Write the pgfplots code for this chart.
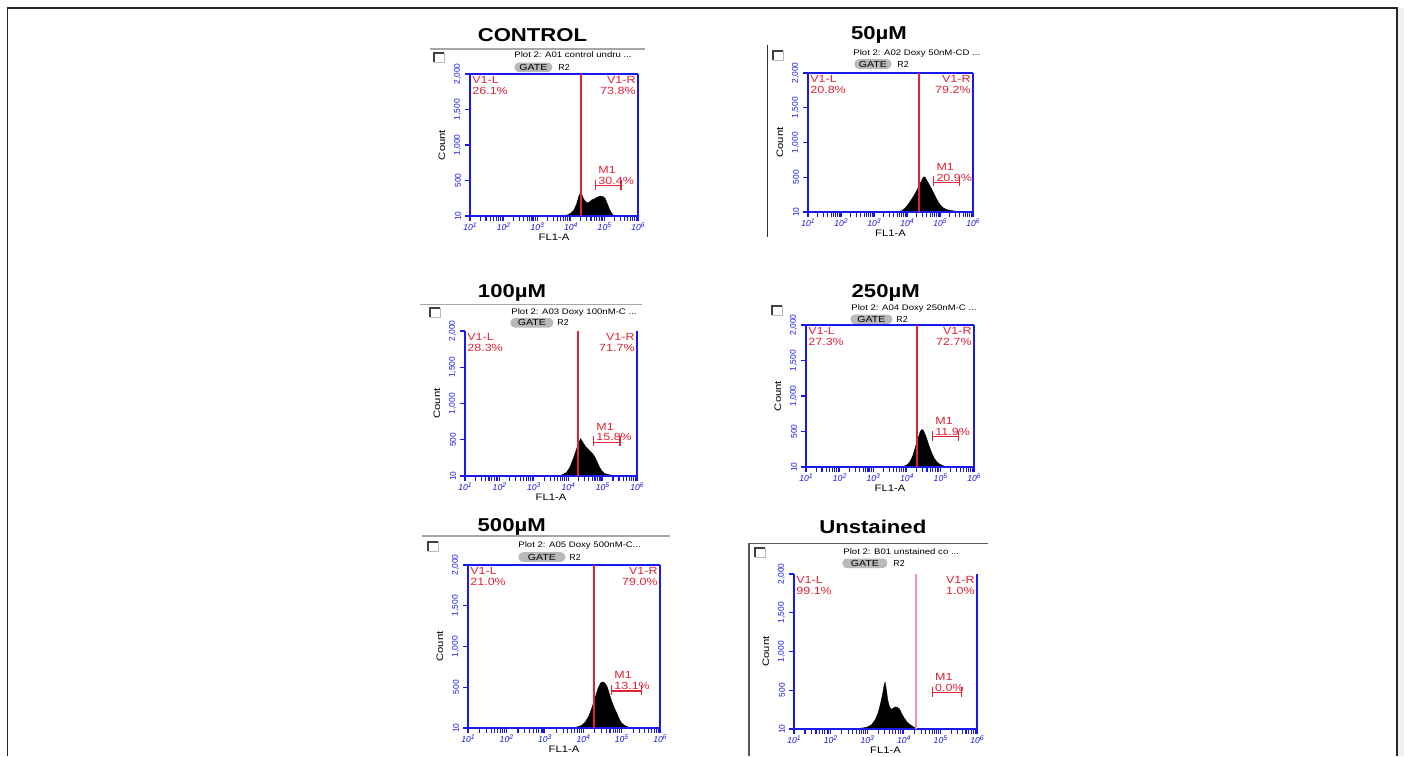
\documentclass[border=0pt]{standalone}
\usepackage{fontspec}
\setmainfont{Liberation Sans}
\usepackage{graphicx}
\usepackage{pgfplots}
\pgfplotsset{compat=1.18}
\definecolor{fcblue}{RGB}{25,25,235}
\definecolor{fcred}{RGB}{225,35,55}
\definecolor{fcpink}{RGB}{240,150,170}
\newcommand{\vfont}{\fontsize{5.2}{5.4}\selectfont}
\newcommand{\sx}[1]{\scalebox{1.2}[1]{#1}}
\newcommand{\tl}[1]{\textit{10}\raisebox{1.4pt}{\fontsize{3.4}{3.6}\selectfont\textit{#1}}}
\pgfplotsset{
 fc/.style={
  scale only axis, clip=false,
  xmin=1, xmax=6, ymin=0, ymax=2000,
  axis line style={draw=none},
  xtick={1,2,3,4,5,6},
  xticklabels={\tl{1},\tl{2},\tl{3},\tl{4},\tl{5},\tl{6}},
  minor xtick={1.301,1.477,1.602,1.699,1.778,1.845,1.903,1.954,
               2.301,2.477,2.602,2.699,2.778,2.845,2.903,2.954,
               3.301,3.477,3.602,3.699,3.778,3.845,3.903,3.954,
               4.301,4.477,4.602,4.699,4.778,4.845,4.903,4.954,
               5.301,5.477,5.602,5.699,5.778,5.845,5.903,5.954},
  ytick={0,500,1000,1500,2000},
  yticklabels={10,500,{1,000},{1,500},{2,000}},
  tick align=outside, tick pos=left,
  major tick length=2.5pt, minor tick length=2.5pt,
  every tick/.style={fcblue, line width=0.55pt},
  xticklabel style={font=\fontsize{4.3}{4.5}\selectfont, text=fcblue, inner sep=0.5pt, yshift=-0.3pt},
  yticklabel style={font=\fontsize{4.2}{4.4}\selectfont, text=fcblue, inner sep=0.5pt, xshift=-1.3pt, rotate=90, anchor=south},
 }
}
\newcommand{\fcbox}[1]{%
 \draw[fcblue, line width=0.7pt] (rel axis cs:0,1) -- (rel axis cs:0,0) -- (rel axis cs:1,0) -- (rel axis cs:1,1);
 \ifnum#1=1 \draw[fcblue, line width=0.7pt] (rel axis cs:0,1) -- (rel axis cs:1,1);\fi
 \node[rotate=90, font=\fontsize{4.7}{5}\selectfont] at ([xshift=-14pt]rel axis cs:0,0.5) {\sx{Count}};
 \node[font=\fontsize{4.7}{5}\selectfont] at ([yshift=-10.5pt]rel axis cs:0.5,0) {\sx{FL1-A}};
}
\newcommand{\vone}[5]{%
 \draw[draw=#3, line width=#2] (axis cs:#1,0) -- (axis cs:#1,2000);
 \node[anchor=north west, align=left, text=fcred, font=\vfont, inner sep=1pt] at (rel axis cs:0,1) {\sx{V1-L}\\\sx{#4}};
 \node[anchor=north east, align=right, text=fcred, font=\vfont, inner sep=1pt] at (rel axis cs:1,1) {\sx{V1-R}\\\sx{#5}};
}
\newcommand{\mone}[4]{%
 \draw[draw=fcred, line width=0.75pt] (axis cs:#1,#3) -- (axis cs:#2,#3);
 \draw[draw=fcred, line width=0.75pt] ([yshift=3pt]axis cs:#1,#3) -- ([yshift=-2pt]axis cs:#1,#3);
 \draw[draw=fcred, line width=0.75pt] ([yshift=3pt]axis cs:#2,#3) -- ([yshift=-2pt]axis cs:#2,#3);
 \node[anchor=south west, align=left, text=fcred, font=\vfont, inner sep=0.4pt] at ([xshift=0.8pt]axis cs:#1,#3) {\sx{M1}\\\sx{#4}};
}
\newcommand{\ttl}[3]{\node[font=\fontsize{9.3}{10}\selectfont\bfseries] at (#1,#2) {\scalebox{1.19}[1]{#3}};}
\newcommand{\cbox}[2]{%
 \draw[gray!55, line width=0.4pt] (#1,#2) rectangle ++(10,9);
 \draw[black!75, line width=0.8pt] (#1,#2+9) -- (#1,#2) -- (#1+10,#2);
}
\newcommand{\ptext}[3]{\node[anchor=west, inner sep=0pt, font=\fontsize{4}{4.4}\selectfont] at (#1,#2) {\sx{#3}};}
\newcommand{\gate}[4]{%
 \node[fill=gray!55, rounded corners=2.2pt, minimum width=#3*0.5pt, minimum height=4.8pt, inner sep=0pt, anchor=west, font=\fontsize{4.4}{4.6}\selectfont] at (#1,#2) {\sx{GATE}};
 \node[anchor=west, inner sep=0pt, font=\fontsize{4.4}{4.6}\selectfont] at (#4,#2) {R2};
}
\begin{document}
\begin{tikzpicture}
\useasboundingbox (0,0) rectangle (702pt,-378pt);
\fill[white] (0,0) rectangle (702pt,-378pt);
\begin{scope}[x=0.5pt,y=-0.5pt]
 \fill[gray!12] (1398,8) rectangle (1404,756);
 \draw[black!85, line width=0.8pt] (7.5,756) -- (7.5,8) -- (1397,8) -- (1397,756);
 % panel 1 header
 \ttl{532.5}{35}{CONTROL}
 \draw[gray!70, line width=0.6pt] (430,49) -- (645,49);
 \cbox{434}{53}
 \ptext{514}{55}{Plot 2: A01 control undru ...}
 \gate{514}{67.3}{38}{558}
 % panel 2 header
 \ttl{879}{35}{50µM}
 \draw[black!80, line width=0.6pt] (767.5,45) -- (767.5,237);
 \cbox{773}{51}
 \ptext{853}{53.3}{Plot 2: A02 Doxy 50nM-CD ...}
 \gate{854}{64}{37}{897}
 % panel 3 header
 \ttl{512}{293}{100µM}
 \draw[gray!70, line width=0.6pt] (420,304.3) -- (642,304.3);
 \cbox{430}{308}
 \ptext{511}{312}{Plot 2: A03 Doxy 100nM-C ...}
 \gate{510}{322.7}{43}{557}
 % panel 4 header
 \ttl{885.7}{293}{250µM}
 \cbox{772}{306}
 \ptext{851}{308}{Plot 2: A04 Doxy 250nM-C ...}
 \gate{850}{319.3}{42}{896}
 % panel 5 header
 \ttl{511.7}{526.7}{500µM}
 \draw[gray!70, line width=0.6pt] (422,536) -- (670,536);
 \cbox{428}{542}
 \ptext{518}{545}{Plot 2: A05 Doxy 500nM-C...}
 \gate{518}{557}{47}{569}
 % panel 6 header
 \ttl{872.8}{526.7}{Unstained}
 \draw[black!65, line width=0.6pt] (749,756) -- (749,543.3) -- (988,543.3);
 \cbox{755}{548}
 \ptext{843}{551.7}{Plot 2: B01 unstained co ...}
 \gate{842}{563.3}{45}{893}
\end{scope}

% ---------- panel 1: CONTROL
\begin{axis}[fc, at={(235pt,-108pt)}, anchor=south west, width=84pt, height=71pt]
\addplot[fill=black, draw=black, line width=0.2pt] coordinates {
(3.6,0) (3.75,5) (3.9,15) (4.0,40) (4.1,90) (4.18,180) (4.24,280) (4.29,330) (4.33,300)
(4.38,240) (4.44,200) (4.5,185) (4.56,200) (4.62,225) (4.7,240) (4.78,265) (4.88,280)
(4.95,275) (5.02,250) (5.08,180) (5.14,110) (5.2,50) (5.26,15) (5.32,5) (5.4,0)} \closedcycle;
\fcbox{1}
\vone{4.30}{1pt}{fcred}{26.1\%}{73.8\%}
\mone{4.74}{5.49}{427}{30.4\%}
\end{axis}

% ---------- panel 2: 50uM
\begin{axis}[fc, at={(404pt,-106pt)}, anchor=south west, width=82.5pt, height=69.5pt]
\addplot[fill=black, draw=black, line width=0.2pt] coordinates {
(3.7,0) (3.85,20) (3.95,60) (4.05,120) (4.15,190) (4.25,270) (4.35,360) (4.43,440)
(4.5,505) (4.55,500) (4.62,440) (4.7,370) (4.78,300) (4.86,220) (4.94,150) (5.02,95)
(5.1,58) (5.2,35) (5.3,25) (5.42,15) (5.55,5) (5.65,0)} \closedcycle;
\fcbox{1}
\vone{4.37}{1pt}{fcred}{20.8\%}{79.2\%}
\mone{4.81}{5.59}{427}{20.9\%}
\end{axis}

% ---------- panel 3: 100uM
\begin{axis}[fc, at={(232.5pt,-238pt)}, anchor=south west, width=86pt, height=72.5pt]
\addplot[fill=black, draw=black, line width=0.2pt] coordinates {
(3.65,0) (3.8,10) (3.95,50) (4.05,120) (4.14,230) (4.22,340) (4.3,450) (4.36,515)
(4.42,470) (4.5,410) (4.58,370) (4.66,330) (4.74,290) (4.82,220) (4.9,130) (4.98,70)
(5.06,35) (5.15,20) (5.3,10) (5.45,3) (5.55,0)} \closedcycle;
\fcbox{0}
\vone{4.28}{0.8pt}{fcred}{28.3\%}{71.7\%}
\mone{4.74}{5.50}{465}{15.8\%}
\end{axis}

% ---------- panel 4: 250uM
\begin{axis}[fc, at={(403pt,-233.5pt)}, anchor=south west, width=84pt, height=71pt]
\addplot[fill=black, draw=black, line width=0.2pt] coordinates {
(3.8,0) (3.92,10) (4.02,35) (4.1,80) (4.18,160) (4.26,290) (4.34,410) (4.4,500)
(4.45,530) (4.5,510) (4.58,420) (4.66,300) (4.74,200) (4.82,120) (4.9,70) (4.98,40)
(5.06,22) (5.15,8) (5.25,0)} \closedcycle;
\fcbox{1}
\vone{4.31}{0.75pt}{fcred}{27.3\%}{72.7\%}
\mone{4.77}{5.54}{427}{11.9\%}
\end{axis}

% ---------- panel 5: 500uM
\begin{axis}[fc, at={(234pt,-364pt)}, anchor=south west, width=96pt, height=81.5pt]
\addplot[fill=black, draw=black, line width=0.2pt] coordinates {
(3.65,0) (3.8,8) (3.95,30) (4.05,70) (4.14,140) (4.22,240) (4.31,370) (4.38,480)
(4.45,550) (4.5,565) (4.56,555) (4.62,510) (4.68,420) (4.74,330) (4.8,260) (4.87,185)
(4.94,110) (5.0,60) (5.07,35) (5.14,18) (5.22,5) (5.3,0)} \closedcycle;
\fcbox{1}
\vone{4.29}{1pt}{fcred}{21.0\%}{79.0\%}
\mone{4.74}{5.52}{454}{13.1\%}
\end{axis}

% ---------- panel 6: Unstained
\begin{axis}[fc, at={(397pt,-364.5pt)}, anchor=south west, width=91.5pt, height=77.5pt]
\addplot[fill=black, draw=black, line width=0.2pt] coordinates {
(2.6,0) (2.75,8) (2.9,15) (3.0,25) (3.12,55) (3.22,120) (3.3,210) (3.36,320) (3.42,450)
(3.46,560) (3.49,605) (3.52,520) (3.56,380) (3.6,300) (3.65,255) (3.7,265) (3.76,285)
(3.82,280) (3.88,260) (3.94,200) (4.0,150) (4.08,95) (4.16,60) (4.24,35) (4.32,10) (4.38,0)} \closedcycle;
\fcbox{0}
\vone{4.33}{0.75pt}{fcpink}{99.1\%}{1.0\%}
\mone{4.78}{5.58}{468}{0.0\%}
\end{axis}
\end{tikzpicture}
\end{document}
